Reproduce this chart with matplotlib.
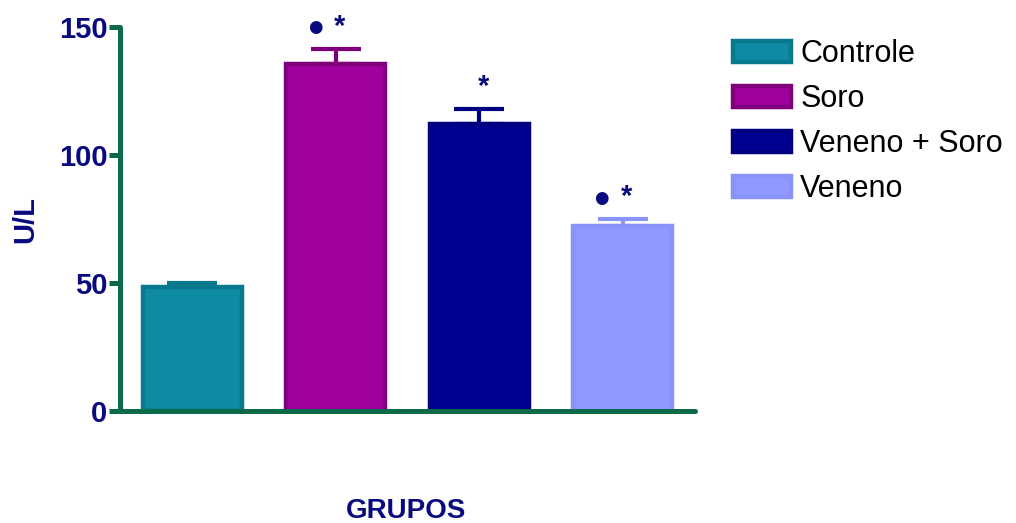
import matplotlib
matplotlib.use("Agg")
import matplotlib.pyplot as plt
import numpy as np

# group means (U/L) and upper error (SEM)
grupos = ["Controle", "Soro", "Veneno + Soro", "Veneno"]
medias = [48.6, 135.5, 112.0, 72.3]
erros = [1.3, 6.0, 6.0, 2.7]
# significance marks above each bar
marcas = ["", "• *", "*", "• *"]

cores = ["#0E8BA2", "#A0009E", "#000093", "#9099FF"]
bordas = ["#08788C", "#80007C", "#000080", "#8A93FA"]
verde = "#0B6A48"
azul = "#0A0A80"

plt.rcParams["font.family"] = ["Liberation Sans", "DejaVu Sans"]

fig = plt.figure(figsize=(10.16, 5.23), dpi=100)
ax = fig.add_axes([0.118, 0.214, 0.566, 0.734])

x = np.arange(len(grupos))
handles = []
for i in range(len(grupos)):
    b = ax.bar(x[i], medias[i], width=0.69, color=cores[i], edgecolor=bordas[i],
               linewidth=3.2, label=grupos[i], zorder=2)
    handles.append(b)
    ax.errorbar(x[i], medias[i], yerr=[[0], [erros[i]]], fmt="none",
                ecolor=bordas[i], elinewidth=3, capsize=18, capthick=3,
                zorder=1)

# significance marks
for i, m in enumerate(marcas):
    if not m:
        continue
    topo = medias[i] + erros[i]
    ax.annotate("*", (x[i], topo), xytext=(3, 6), textcoords="offset points",
                ha="center", va="bottom", fontsize=21, fontweight="bold",
                color=azul)
    if m.startswith("•"):
        ax.annotate("●", (x[i], topo), xytext=(-15, 9), textcoords="offset points",
                    ha="center", va="bottom", fontsize=12, color=azul,
                    family=["DejaVu Sans"])

ax.set_xlim(-0.505, 3.505)
ax.set_ylim(0, 150)
ax.set_yticks([0, 50, 100, 150])
ax.set_xticks([])

for s in ["top", "right"]:
    ax.spines[s].set_visible(False)
for s in ["left", "bottom"]:
    ax.spines[s].set_color(verde)
    ax.spines[s].set_linewidth(3.6)
    ax.spines[s].set_capstyle("round")

ax.tick_params(axis="y", colors=verde, width=3.6, length=8, pad=1,
               labelcolor=azul, labelsize=21)
for t in ax.get_yticklabels():
    t.set_fontweight("bold")

# axis titles
fig.text(0.025, 0.581, "U/L", rotation=90, ha="center", va="center",
         fontsize=21, fontweight="bold", color=azul)
fig.text(0.4, 0.023, "GRUPOS", ha="center", va="center", fontsize=20,
         fontweight="bold", color=azul)

leg = fig.legend(handles=handles, labels=grupos, loc="upper left",
                 bbox_to_anchor=(0.7215, 0.925), frameon=False, fontsize=22,
                 handlelength=1.9, handleheight=0.65, handletextpad=0.3,
                 labelspacing=0.49, borderaxespad=0, borderpad=0)

fig.savefig("out.png", dpi=100)
